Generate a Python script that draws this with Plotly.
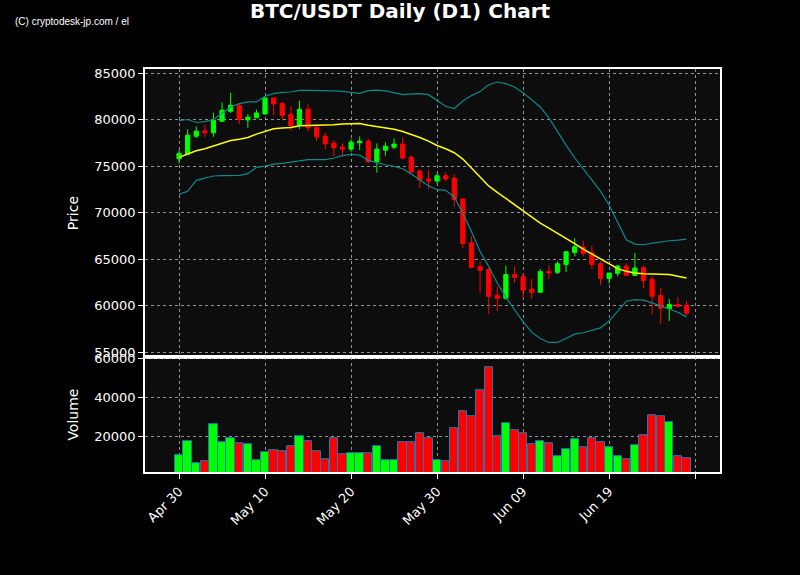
"""BTC/USDT daily candles with Bollinger bands and a volume panel, dark theme."""
import pandas as pd
import plotly.graph_objects as go
from plotly.subplots import make_subplots

DATES = pd.date_range("2024-04-30", periods=60, freq="D")

OPEN = [75780, 76280, 78210, 78780, 78570, 79820, 80890, 81530, 79960, 80180,
        80600, 82320, 81750, 80570, 79350, 81100, 79180, 78210, 77460, 77030,
        76820, 77500, 77680, 75460, 76710, 77030, 77360, 75960, 74460, 73610,
        73390, 73960, 73710, 71460, 66750, 64180, 63900, 61110, 60790, 63330,
        63110, 61750, 61430, 63680, 63580, 64430, 65720, 66290, 65680, 64500,
        62930, 63470, 64250, 63250, 64070, 62820, 61080, 59680, 60110, 60000]
HIGH = [76710, 78960, 79250, 79460, 80750, 81820, 82890, 81710, 80570, 81070,
        82420, 82320, 81820, 81390, 82030, 81710, 79180, 78570, 77780, 77430,
        77890, 78180, 77930, 77430, 77530, 77960, 78070, 76110, 74640, 74530,
        74210, 74320, 74110, 71460, 67430, 64750, 64040, 62080, 64290, 64150,
        63500, 62860, 63930, 64360, 64750, 65790, 67250, 66970, 66430, 64750,
        63500, 64360, 64570, 65650, 64290, 63150, 61900, 60720, 60930, 60500]
LOW = [75280, 76280, 78030, 78070, 78140, 79750, 80710, 79500, 79100, 80180,
       80530, 80460, 79930, 78780, 78960, 78710, 77680, 76780, 76070, 76070,
       76530, 76710, 75360, 74290, 76110, 76820, 75710, 74210, 72640, 72500,
       73140, 73360, 70640, 66180, 64000, 61360, 59110, 59400, 60650, 62430,
       60720, 60720, 61430, 62860, 63400, 63610, 65290, 65290, 63930, 62220,
       62360, 63150, 63180, 63250, 61900, 59110, 58040, 58360, 59930, 58930]
CLOSE = [76360, 78320, 78750, 78570, 79930, 81000, 81530, 80000, 80250, 80710,
         82320, 81670, 80460, 79320, 81100, 79100, 78140, 77390, 76960, 76820,
         77570, 77680, 75460, 76820, 77140, 77360, 75860, 74360, 73500, 73390,
         73960, 73610, 71400, 66680, 64110, 63790, 61000, 60790, 63330, 63040,
         61650, 61430, 63650, 63500, 64500, 65790, 66320, 65610, 64430, 62930,
         63500, 64250, 63250, 64040, 62680, 61000, 59720, 60110, 59930, 59180]
VOLUME = [10000, 17240, 5860, 6900, 26030, 16720, 18790, 16210, 15690, 7420,
          11550, 12590, 12070, 14660, 19830, 17240, 12070, 7930, 18790, 10520,
          11040, 11040, 11040, 14660, 7760, 7420, 16720, 16720, 21380, 18790,
          7420, 6900, 23970, 32760, 30170, 43620, 55510, 20000, 26550, 22930,
          21380, 15860, 17240, 16210, 9480, 13100, 18280, 14140, 18790, 16720,
          14140, 9480, 7930, 15170, 20350, 30690, 30170, 27410, 9480, 8450]

BB_UPPER = [79890, 80000, 79680, 79780, 80000, 80640, 81350, 81710, 81890, 81890,
            82500, 82780, 82920, 82960, 83140, 83140, 83140, 83140, 83070, 83030,
            82890, 82820, 83100, 83170, 83070, 82890, 82670, 82750, 82780, 82670,
            82070, 81420, 81180, 82000, 82570, 83000, 83740, 84030, 83850, 83490,
            82890, 82140, 81350, 80180, 78680, 77250, 75890, 74700, 73400, 72300,
            70820, 68860, 67070, 66610, 66540, 66720, 66860, 66970, 67040, 67140]
BB_MID = [75930, 76250, 76640, 76860, 77180, 77500, 77750, 77890, 78070, 78430,
          78750, 79000, 79100, 79140, 79320, 79350, 79350, 79390, 79430, 79530,
          79570, 79570, 79390, 79250, 79140, 78960, 78710, 78430, 78070, 77680,
          77210, 76860, 76430, 75750, 74780, 73820, 72860, 72180, 71500, 70900,
          70220, 69470, 68860, 68320, 67790, 67220, 66650, 66070, 65540, 65000,
          64470, 63970, 63680, 63500, 63430, 63400, 63360, 63330, 63150, 62970]
BB_LOWER = [71960, 72290, 73460, 73710, 73930, 73960, 73960, 74000, 74180, 74860,
            75000, 75210, 75280, 75390, 75570, 75680, 75680, 75680, 75860, 76110,
            76250, 76180, 75610, 75360, 75140, 74960, 74710, 74140, 73500, 72890,
            72460, 72390, 71680, 69930, 67970, 65820, 64220, 62430, 60900, 59580,
            58260, 57150, 56470, 56040, 56040, 56470, 56930, 57080, 57360, 57610,
            58330, 59400, 60470, 60650, 60580, 60290, 59930, 59650, 59290, 58790]

TICK_DATES = ["2024-04-30", "2024-05-10", "2024-05-20", "2024-05-30",
              "2024-06-09", "2024-06-19", "2024-06-29"]
TICK_TEXT = ["Apr 30", "May 10", "May 20", "May 30", "Jun 09", "Jun 19", ""]

UP, DOWN = "#00ff00", "#ff0000"
GRID = "rgba(190,190,190,0.75)"
FONT = "DejaVu Sans"

fig = make_subplots(rows=2, cols=1, shared_xaxes=True, vertical_spacing=0,
                    row_heights=[0.715, 0.285])

fig.add_trace(go.Candlestick(x=DATES, open=OPEN, high=HIGH, low=LOW, close=CLOSE,
                             increasing=dict(line=dict(color=UP, width=1), fillcolor=UP),
                             decreasing=dict(line=dict(color=DOWN, width=1), fillcolor=DOWN),
                             showlegend=False), row=1, col=1)
fig.add_scatter(x=DATES, y=BB_UPPER, mode="lines", line=dict(color="#0a8a8a", width=1.2),
                showlegend=False, row=1, col=1)
fig.add_scatter(x=DATES, y=BB_LOWER, mode="lines", line=dict(color="#0a8a8a", width=1.2),
                showlegend=False, row=1, col=1)
fig.add_scatter(x=DATES, y=BB_MID, mode="lines", line=dict(color="yellow", width=1.5),
                showlegend=False, row=1, col=1)

vol_colors = [UP if c >= o else DOWN for o, c in zip(OPEN, CLOSE)]
fig.add_bar(x=DATES, y=VOLUME, marker=dict(color=vol_colors, line=dict(color="#1f77b4", width=1)),
            width=86400000 * 0.97, showlegend=False, row=2, col=1)

axis_common = dict(showline=True, linecolor="white", linewidth=1.5, mirror=True,
                   showgrid=True, gridcolor=GRID, griddash="dot", gridwidth=1,
                   zeroline=False, tickfont=dict(family=FONT, size=13, color="white"),
                   ticks="outside", tickcolor="white", ticklen=5)

fig.update_xaxes(**axis_common)
fig.update_xaxes(rangeslider_visible=False, type="date",
                 range=["2024-04-26 01:00", "2024-07-01 21:30"],
                 tickvals=TICK_DATES, ticktext=TICK_TEXT)
fig.update_xaxes(showticklabels=False, ticks="", row=1, col=1)
fig.update_xaxes(tickangle=-45, row=2, col=1)

fig.update_yaxes(**axis_common)
fig.update_yaxes(range=[54460, 85430], tickvals=[55000, 60000, 65000, 70000, 75000, 80000, 85000],
                 tickformat="d", title=dict(text="Price", font=dict(family=FONT, size=14, color="white"),
                                            standoff=12), row=1, col=1)
fig.update_yaxes(range=[1540, 60670], tickvals=[20000, 40000, 60000], tickformat="d",
                 title=dict(text="Volume", font=dict(family=FONT, size=14, color="white"),
                            standoff=12), row=2, col=1)

fig.add_annotation(text="(C) cryptodesk-jp.com / el", xref="paper", yref="paper",
                   x=-0.229, y=1.119, xanchor="left", yanchor="middle", showarrow=False,
                   font=dict(family="Liberation Sans", size=10, color="white"))

fig.update_layout(
    title=dict(text="<b>BTC/USDT Daily (D1) Chart</b>", x=0.5, xanchor="center",
               y=0.981, yanchor="middle", font=dict(family=FONT, size=20, color="white")),
    width=800, height=575, margin=dict(l=145, r=80, t=69, b=103),
    paper_bgcolor="black", plot_bgcolor="#0d0d0d",
    font=dict(family=FONT, color="white"), bargap=0, showlegend=False,
)

# the page's default body margin pushes the fixed-size figure off by 8px
fig.write_html("out.html", config={"displayModeBar": False},
               post_script="document.body.style.margin='0';"
                           "document.body.style.background='black';")
